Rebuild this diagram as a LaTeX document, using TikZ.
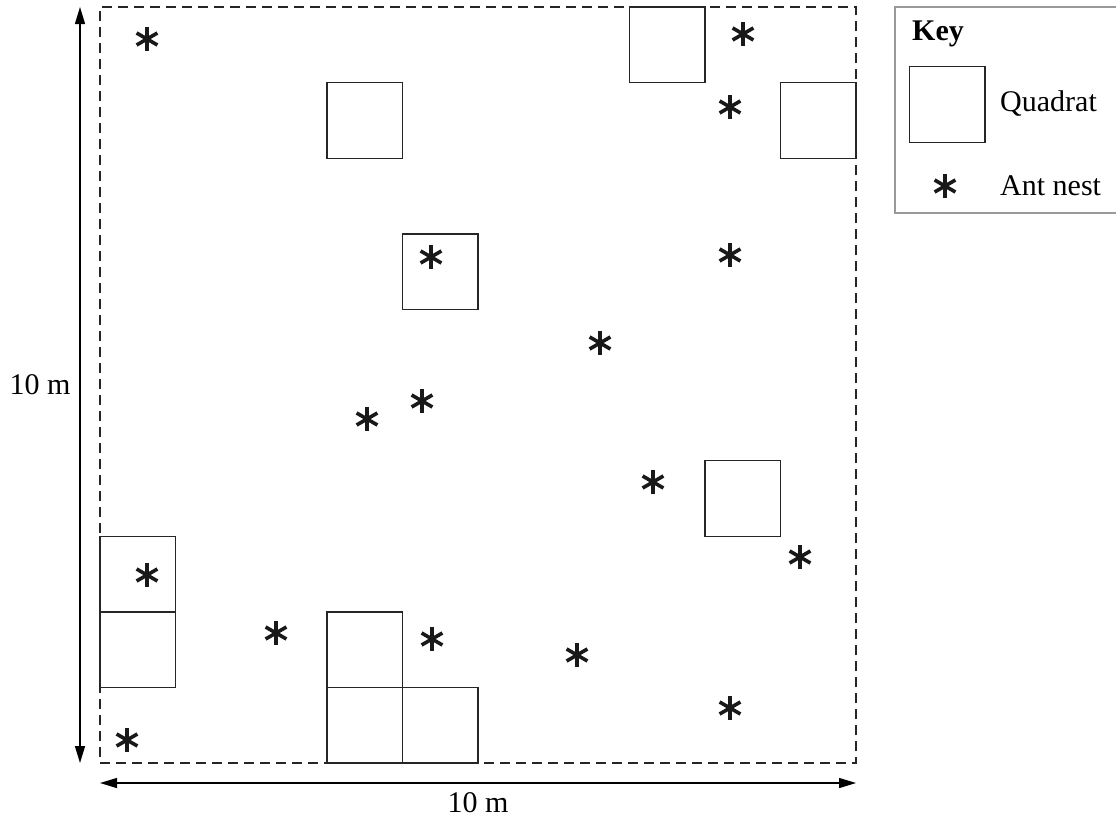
\documentclass[tikz,border=0pt]{standalone}
\usepackage{fontspec}
\setmainfont{Liberation Serif}
\usetikzlibrary{arrows.meta}
\begin{document}
\begin{tikzpicture}[x=1pt,y=-1pt,
  quad/.style={draw=black!85,line width=1.4pt,minimum size=75.6pt,inner sep=0pt,outer sep=0pt},
  nestmark/.style={line width=3.6pt,draw=black!90},
  lbl/.style={font=\fontsize{30}{36}\selectfont,inner sep=0pt},
  dimarrow/.style={line width=1.4pt,{Triangle[length=17pt,width=10pt]}-{Triangle[length=17pt,width=10pt]}},
  pics/antnest/.style={code={
    \draw[nestmark] (0,-12) -- (0,12);
    \draw[nestmark] (-30:12) -- (150:12);
    \draw[nestmark] (30:12) -- (210:12);
  }}]
\useasboundingbox (0,0) rectangle (1116,819);

% survey area, 10 m by 10 m
\node[draw=black!85,line width=1.4pt,dash pattern=on 10pt off 6pt,
      minimum width=756pt,minimum height=756pt,inner sep=0pt] (field) at (478,385) {};

% quadrats on a 1 m grid (column i, row j from the bottom-left corner)
\newcommand{\quadrat}[3]{\node[quad] (#1) at ({100+75.6*(#2+0.5)},{763-75.6*(#3+0.5)}) {};}
\quadrat{qa}{7}{9}
\quadrat{qb}{9}{8}
\quadrat{qc}{3}{8}
\quadrat{qd}{4}{6}
\quadrat{qe}{8}{3}
\quadrat{qf}{0}{2}
\quadrat{qg}{0}{1}
\quadrat{qh}{3}{1}
\quadrat{qi}{3}{0}
\quadrat{qj}{4}{0}

% ant nests
\foreach \px/\py in {147/39, 743/34, 730/107, 431/257, 730/255, 600/343,
                     422/401, 367/419, 653/482, 800/557, 147/575, 276/633,
                     432/639, 577/655, 730/708, 127/740}
  \pic at (\px,\py) {antnest};

% dimension arrows
\coordinate (vtop) at (80,7);
\coordinate (vbot) at (80,763);
\coordinate (hleft) at (100,783);
\coordinate (hright) at (856,783);
\draw[dimarrow] (vtop) -- (vbot);
\draw[dimarrow] (hleft) -- (hright);
\node[lbl] (vlen) at (40,385) {10 m};
\node[lbl] (hlen) at (478,803) {10 m};

% key
\draw[draw=black!40,line width=1.2pt] (1117,7) -| (895,213) -- (1117,213);
\node[lbl,anchor=west,font=\fontsize{30}{36}\selectfont\bfseries] (keytitle) at (912,34) {Key};
\node[quad] (keyquad) at (947,104.5) {};
\node[lbl,anchor=west] (keyquadlbl) at (1000,104) {Quadrat};
\pic at (945,186) {antnest};
\node[lbl,anchor=west] (keynestlbl) at (1000,186) {Ant nest};
\end{tikzpicture}
\end{document}
